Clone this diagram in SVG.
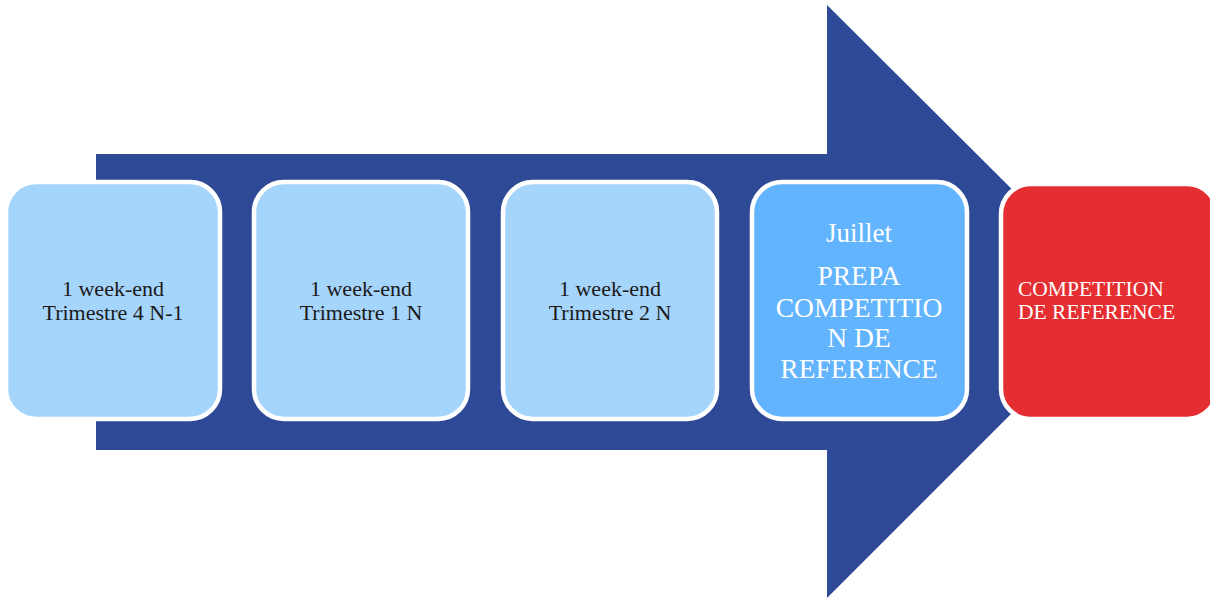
<svg xmlns="http://www.w3.org/2000/svg" width="1210" height="598" viewBox="0 0 1210 598">
<style>
.box{stroke:#FFFFFF;stroke-width:4.5}
.lb{fill:#A6D5FC}
.t{font-family:"Liberation Serif",serif;text-anchor:middle}
.dk{fill:#1a1a1a;font-size:22px}
.wh{fill:#FFFFFF}
</style>
<rect width="1210" height="598" fill="#FFFFFF"/>
<g id="connectors">
<path id="arrow" d="M96,154 L827,154 L827,5 L1124,301 L827,598 L827,450 L96,450 Z" fill="#2E4A97"/>
</g>
<g id="node1">
<rect class="box lb" x="6" y="182" width="214" height="237" rx="30"/>
<text class="t dk" x="113" y="296">1 week-end</text>
<text class="t dk" x="113" y="320">Trimestre 4 N-1</text>
</g>
<g id="node2">
<rect class="box lb" x="254" y="182" width="214" height="237" rx="30"/>
<text class="t dk" x="361" y="296">1 week-end</text>
<text class="t dk" x="361" y="320">Trimestre 1 N</text>
</g>
<g id="node3">
<rect class="box lb" x="503" y="182" width="214" height="237" rx="30"/>
<text class="t dk" x="610" y="296">1 week-end</text>
<text class="t dk" x="610" y="320">Trimestre 2 N</text>
</g>
<g id="node4">
<rect class="box" x="752" y="182" width="215" height="237" rx="30" fill="#62B4FE"/>
<text class="t wh" x="859" y="242" font-size="27">Juillet</text>
<text class="t wh" x="859" y="285" font-size="27.5">PREPA</text>
<text class="t wh" x="859" y="317" font-size="27.5">COMPETITIO</text>
<text class="t wh" x="859" y="347" font-size="27.5">N DE</text>
<text class="t wh" x="859" y="378" font-size="27.5">REFERENCE</text>
</g>
<g id="node5">
<rect class="box" x="1001" y="184" width="216" height="235" rx="30" fill="#E52E31"/>
<text class="wh" x="1018" y="296" font-size="21.5" font-family="Liberation Serif, serif">COMPETITION</text>
<text class="wh" x="1018" y="319" font-size="21.5" font-family="Liberation Serif, serif">DE REFERENCE</text>
</g>
</svg>
